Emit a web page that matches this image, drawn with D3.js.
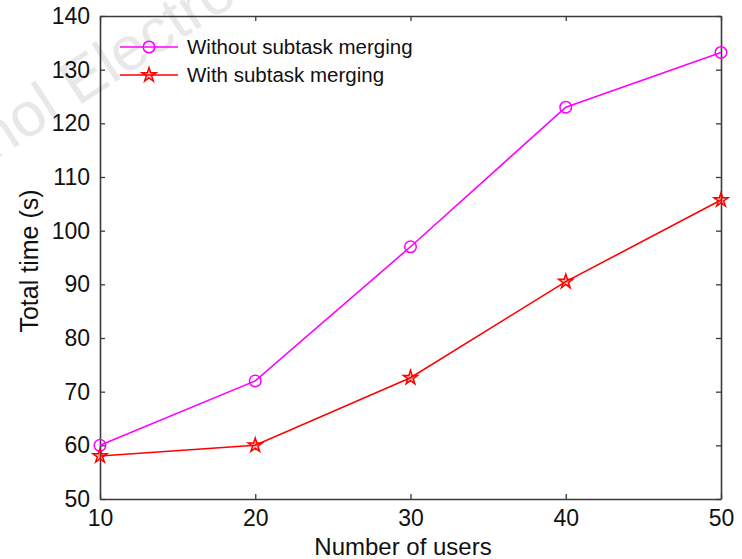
<!DOCTYPE html>
<html><head><meta charset="utf-8">
<script src="https://cdn.jsdelivr.net/npm/d3@7"></script>
<style>body{margin:0;background:#fff}svg{display:block}</style>
</head><body>
<script>
const users = [10, 20, 30, 40, 50];
const withoutMerging = [60, 72, 97, 123, 133.2];
const withMerging = [58, 60, 72.6, 90.5, 105.7];
const xTicks = [10, 20, 30, 40, 50];
const yTicks = [50, 60, 70, 80, 90, 100, 110, 120, 130, 140];
const seriesNames = ["Without subtask merging", "With subtask merging"];

const W = 742, H = 559;
const m = {l: 100, r: 21, t: 16, b: 60};
const svg = d3.select("body").append("svg").attr("width", W).attr("height", H);

// faint watermark (cut off in the reference too)
svg.append("text").attr("transform", "translate(-6,161) rotate(-33)")
  .attr("font-family", "Liberation Sans, Arial, sans-serif").attr("font-size", 62)
  .attr("fill", "#e8e8e8").text("nol Electronics");

const x = d3.scaleLinear().domain([10, 50]).range([m.l, W - m.r]);
const y = d3.scaleLinear().domain([50, 140]).range([H - m.b, m.t]);
const font = "Liberation Sans, Arial, Helvetica, sans-serif";
const axCol = "#3a3a3a";

const gx = svg.append("g").attr("transform", `translate(0,${y(50)})`)
  .call(d3.axisBottom(x).tickValues(xTicks).tickSizeInner(-5).tickSizeOuter(0).tickPadding(11));
const gy = svg.append("g").attr("transform", `translate(${x(10)},0)`)
  .call(d3.axisLeft(y).tickValues(yTicks).tickSizeInner(-5).tickSizeOuter(0).tickPadding(10));
const gxt = svg.append("g").attr("transform", `translate(0,${y(140)})`)
  .call(d3.axisTop(x).tickValues(xTicks).tickSizeInner(-5).tickSizeOuter(0).tickFormat(""));
const gyr = svg.append("g").attr("transform", `translate(${x(50)},0)`)
  .call(d3.axisRight(y).tickValues(yTicks).tickSizeInner(-5).tickSizeOuter(0).tickFormat(""));
[gx, gy, gxt, gyr].forEach(g => {
  g.selectAll("path").attr("stroke", axCol).attr("stroke-width", 1.6);
  g.selectAll("line").attr("stroke", axCol).attr("stroke-width", 1.3);
  g.selectAll("text").attr("font-family", font).attr("font-size", 23).attr("fill", "#111");
});

svg.append("text").attr("x", 403).attr("y", 555).attr("text-anchor", "middle")
  .attr("font-family", font).attr("font-size", 24).attr("fill", "#111").text("Number of users");
svg.append("text").attr("transform", `translate(38,261) rotate(-90)`)
  .attr("text-anchor", "middle").attr("font-family", font).attr("font-size", 25).attr("fill", "#111")
  .text("Total time (s)");

const line = d3.line().x((d, i) => x(users[i])).y(d => y(d));
const star = d3.symbol().type(d3.symbolStar).size(62);

const series = [
  {vals: withoutMerging, color: "#ff00ff", marker: "circle"},
  {vals: withMerging, color: "#ff0000", marker: "star"}
];
function marker(g, s, cx, cy) {
  if (s.marker === "circle") {
    g.append("circle").attr("cx", cx).attr("cy", cy).attr("r", 5.8)
      .attr("fill", "none").attr("stroke", s.color).attr("stroke-width", 1.5);
  } else {
    g.append("path").attr("d", star).attr("transform", `translate(${cx},${cy})`)
      .attr("fill", "rgba(255,0,0,0.3)").attr("stroke", s.color).attr("stroke-width", 1.5);
  }
}
series.forEach(s => {
  svg.append("path").datum(s.vals).attr("d", line).attr("fill", "none")
    .attr("stroke", s.color).attr("stroke-width", 1.6);
  const g = svg.append("g");
  s.vals.forEach((v, i) => marker(g, s, x(users[i]), y(v)));
});

const lg = svg.append("g");
series.forEach((s, i) => {
  const ly = 47 + i * 28;
  lg.append("line").attr("x1", 120).attr("x2", 178).attr("y1", ly).attr("y2", ly)
    .attr("stroke", s.color).attr("stroke-width", 1.6);
  marker(lg, s, 149, ly);
  lg.append("text").attr("x", 187).attr("y", ly).attr("dy", "0.36em")
    .attr("font-family", font).attr("font-size", 20.5).attr("fill", "#111").text(seriesNames[i]);
});
</script>
</body></html>
